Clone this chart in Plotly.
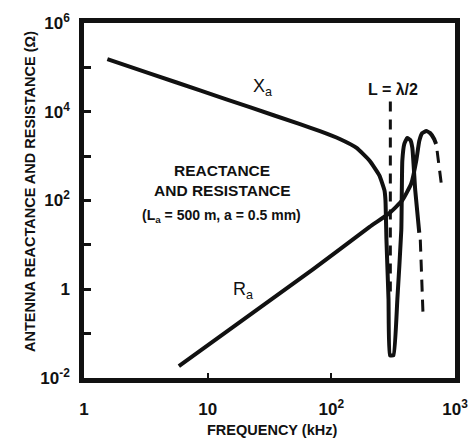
import plotly.graph_objects as go

# ---- data ----
# Antenna reactance |X_a| (ohm) vs frequency (kHz), solid part
xa_freq = [1.545, 3.48, 8.79, 22.2, 55.8, 80.9, 117, 160, 204, 245, 269, 274, 279, 290, 298,
           318, 342, 368, 375, 389, 411, 435, 452, 477, 514]
xa_val = [1.54e5, 7.14e4, 2.99e4, 1.25e4, 5.24e3, 3.66e3, 2.43e3, 1.53e3, 787, 365, 169, 101, 13.1, 0.60, 0.0325,
          0.0325, 0.60, 21.8, 787, 1880, 2560, 2310, 1530, 169, 18.7]
# dashed continuation of X_a
xa_dash_freq = [524, 553]
xa_dash_val = [13.1, 0.217]

# Antenna resistance R_a (ohm), solid part
ra_freq = [5.85, 71.0, 204, 295, 375, 443, 486, 514, 543, 585, 630, 678, 703]
ra_val = [0.0185, 2.81, 25.4, 52, 101, 242, 787, 2190, 3300, 3660, 3300, 2430, 1880]
# dashed continuation of R_a
ra_dash_freq = [717, 787]
ra_dash_val = [1310, 169]

# L = lambda/2 marker
half_wave_freq = [300, 300]
half_wave_val = [1.7e4, 0.7]

# tick labels
x_tickvals = [1, 10, 100, 1000]
x_ticktext = ["1", "10", "10<sup>2</sup>", "10<sup>3</sup>"]
y_tickvals = [1e-2, 1e-1, 1, 1e1, 1e2, 1e3, 1e4, 1e5, 1e6]
y_ticktext = ["10<sup>-2</sup>", "", "1", "", "10<sup>2</sup>", "", "10<sup>4</sup>", "", "10<sup>6</sup>"]

INK = "#111111"
FONT = "Liberation Sans, Arial, sans-serif"

fig = go.Figure()
fig.add_trace(go.Scatter(x=xa_freq, y=xa_val, mode="lines",
                         line=dict(color=INK, width=4, shape="spline", smoothing=0.4)))
fig.add_trace(go.Scatter(x=xa_dash_freq, y=xa_dash_val, mode="lines",
                         line=dict(color=INK, width=3, dash="12px,8px")))
fig.add_trace(go.Scatter(x=ra_freq, y=ra_val, mode="lines",
                         line=dict(color=INK, width=4, shape="spline", smoothing=0.4)))
fig.add_trace(go.Scatter(x=ra_dash_freq, y=ra_dash_val, mode="lines",
                         line=dict(color=INK, width=3, dash="12px,8px")))
fig.add_trace(go.Scatter(x=half_wave_freq, y=half_wave_val, mode="lines",
                         line=dict(color=INK, width=3, dash="10px,8px")))

L, R, T, B = 84, 16, 23, 64
W, H = 471, 442
pw, ph = W - L - R, H - T - B


def px(xp):
    return (xp - L) / pw


def py(yp):
    return (H - B - yp) / ph


annos = [
    dict(text="X<sub>a</sub>", x=px(262), y=py(87), size=18, weight="normal"),
    dict(text="R<sub>a</sub>", x=px(243), y=py(290), size=18, weight="normal"),
    dict(text="REACTANCE", x=px(222), y=py(170), size=15.5, weight="bold"),
    dict(text="AND RESISTANCE", x=px(222), y=py(190), size=15.5, weight="bold"),
    dict(text="(L<sub>a</sub> = 500 m, a = 0.5 mm)", x=px(221), y=py(216), size=14, weight="bold"),
    dict(text="L = λ/2", x=px(393), y=py(90), size=16, weight="bold"),
    dict(text="FREQUENCY (kHz)", x=px(272), y=py(430), size=14.5, weight="bold"),
]
for a in annos:
    fig.add_annotation(text=a["text"], x=a["x"], y=a["y"], xref="paper", yref="paper",
                       showarrow=False, xanchor="center", yanchor="middle",
                       font=dict(family=FONT, size=a["size"], color=INK, weight=a["weight"]))
fig.add_annotation(text="ANTENNA REACTANCE AND RESISTANCE (Ω)", x=px(30), y=py(192),
                   xref="paper", yref="paper", showarrow=False, textangle=-90,
                   xanchor="center", yanchor="middle",
                   font=dict(family=FONT, size=14.5, color=INK, weight="bold"))

axis_common = dict(type="log", showgrid=False, zeroline=False, showline=True, linewidth=4.5,
                   linecolor=INK, mirror=True, ticks="inside", tickcolor=INK, automargin=False,
                   tickfont=dict(family=FONT, size=17, color=INK, weight="bold"))
fig.update_xaxes(**axis_common, range=[0, 3], tickvals=x_tickvals, ticktext=x_ticktext,
                 ticklen=5, tickwidth=2, ticklabelstandoff=12)
fig.update_yaxes(**axis_common, range=[-2, 6], tickvals=y_tickvals, ticktext=y_ticktext,
                 ticklen=7, tickwidth=2.5, ticklabelstandoff=6)

fig.update_layout(width=W, height=H, margin=dict(l=L, r=R, t=T, b=B, autoexpand=False),
                  paper_bgcolor="white", plot_bgcolor="white", showlegend=False)

fig.write_html("out.html")
